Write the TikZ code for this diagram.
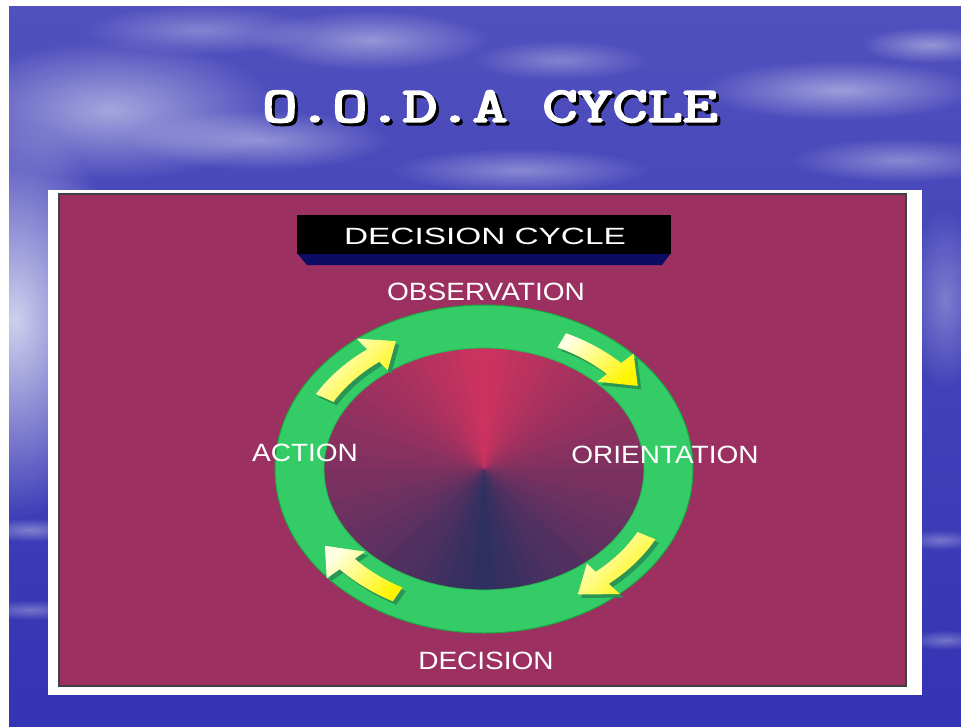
\documentclass[tikz,border=0pt]{standalone}
\usepackage{fontspec}
\setmainfont{Liberation Sans}
\newfontfamily\titlefont{Latin Modern Mono}[FakeBold=3.5]
\usetikzlibrary{calc,fadings}
\definecolor{panelmaroon}{RGB}{156,48,96}
\definecolor{ringgreen}{RGB}{51,204,102}
\definecolor{ringedge}{RGB}{30,165,65}
\definecolor{shadowgreen}{RGB}{42,150,85}
\definecolor{conetop}{RGB}{205,50,95}
\definecolor{conebot}{RGB}{44,48,96}
\definecolor{bevelnavy}{RGB}{12,12,100}
\definecolor{skytop}{RGB}{80,80,190}
\definecolor{skybot}{RGB}{52,52,180}
\definecolor{arrowlight}{RGB}{255,255,225}
\definecolor{arrowyellow}{RGB}{255,245,0}
\tikzfading[name=softcloud, inner color=transparent!0, outer color=transparent!100]
\tikzset{
  lbl/.style={text=white, font=\fontsize{25}{25}\selectfont, inner sep=0pt},
  cloud/.style={white, opacity=#1, path fading=softcloud},
  cloud/.default=0.35
}
\newcommand\ttltext{\scalebox{1.36}[1]{O.O.D.A CYCLE}}
% arrow along the ring: tail angle, neck angle, tip angle
\newcommand\oodaarrow[4][]{%
  \path[#1] (#2:{184*1.055} and {142*1.055})
    arc[start angle=#2, end angle=#3, x radius={184*1.055}, y radius={142*1.055}]
    -- (#3:{184*1.15} and {142*1.15})
    -- (#4:{184*1.02} and {142*1.02})
    -- (#3:{184*0.87} and {142*0.87})
    -- (#3:{184*0.945} and {142*0.945})
    arc[start angle=#3, end angle=#2, x radius={184*0.945}, y radius={142*0.945}]
    -- cycle;}
\begin{document}
\begin{tikzpicture}[x=1pt,y=1pt]
\useasboundingbox (0,0) rectangle (961,-726);
\fill[white] (0,0) rectangle (961,-726);
% sky background
\shade[top color=skytop, bottom color=skybot] (9,-6) rectangle (961,-726);
\begin{scope}
\clip (9,-6) rectangle (961,-726);
\fill[cloud=0.75] (15,-320) ellipse[x radius=110, y radius=200];
\fill[cloud=0.5] (110,-110) ellipse[x radius=170, y radius=70];
\fill[cloud=0.4] (260,-140) ellipse[x radius=130, y radius=30];
\fill[cloud=0.4] (370,-40) ellipse[x radius=120, y radius=30];
\fill[cloud=0.3] (200,-30) ellipse[x radius=120, y radius=25];
\fill[cloud=0.35] (520,-170) ellipse[x radius=130, y radius=22];
\fill[cloud=0.3] (560,-60) ellipse[x radius=90, y radius=20];
\fill[cloud=0.45] (840,-90) ellipse[x radius=140, y radius=30];
\fill[cloud=0.4] (930,-45) ellipse[x radius=70, y radius=18];
\fill[cloud=0.35] (900,-160) ellipse[x radius=110, y radius=22];
\fill[cloud=0.3] (945,-300) ellipse[x radius=40, y radius=90];
\fill[cloud=0.35] (30,-530) ellipse[x radius=50, y radius=12];
\fill[cloud=0.3] (30,-610) ellipse[x radius=50, y radius=10];
\fill[cloud=0.3] (940,-540) ellipse[x radius=40, y radius=10];
\fill[cloud=0.3] (945,-640) ellipse[x radius=40, y radius=10];
\end{scope}
% title with shadow
\node[font=\titlefont\fontsize{50}{50}\selectfont, inner sep=0pt] (title) at (490,-108)
  {\makebox[0pt][l]{\hspace*{3pt}\raisebox{-3pt}{\color{black}\ttltext}}%
   {\color{white}\ttltext}};
% panel
\fill[white] (48,-190) rectangle (922,-695);
\filldraw[fill=panelmaroon, draw=black!75, line width=1.5pt] (59,-194) rectangle (906,-686);
% decision cycle box
\fill[bevelnavy] (297,-253) -- (671,-253) -- (662,-265) -- (307,-265) -- cycle;
\fill[black] (297,-215) rectangle (671,-254);
\node[text=white, font=\fontsize{23.5}{24}\selectfont, inner sep=0pt] (dc) at (485,-236) {\scalebox{1.42}[1]{DECISION CYCLE}};
% cone fill
\begin{scope}[shift={(484,-469)}]
\clip (0,0) ellipse[x radius=162, y radius=123];
\foreach \a in {0,6,...,354}{
  \pgfmathsetmacro\m{\a+3}
  \pgfmathtruncatemacro\p{abs(mod(\m+450,360)-180)/180*100}
  \colorlet{wedgecol}{conebot!\p!conetop}
  \fill[wedgecol] (0,0) -- (\a:320) -- (\a+6.4:320) -- cycle;
}
\end{scope}
% ring
\begin{scope}[shift={(484,-469)}]
\fill[ringgreen, even odd rule] (0,0) ellipse[x radius=209, y radius=164] (0,0) ellipse[x radius=160, y radius=121];
\draw[ringedge, line width=1pt] (0,0) ellipse[x radius=209, y radius=164];
\draw[ringedge!60!ringgreen, line width=0.8pt] (0,0) ellipse[x radius=160, y radius=121];
\end{scope}
% arrows
\begin{scope}[shift={(487.5,-472.5)}]
\oodaarrow[fill=shadowgreen]{150}{127}{118}
\oodaarrow[fill=shadowgreen]{65}{45}{35}
\oodaarrow[fill=shadowgreen]{-28}{-50}{-60}
\oodaarrow[fill=shadowgreen]{242}{222}{212}
\end{scope}
\begin{scope}[shift={(484,-469)}]
\oodaarrow[shade, top color=arrowlight, bottom color=arrowyellow, shading angle=45]{150}{127}{118}
\oodaarrow[shade, top color=arrowlight, bottom color=arrowyellow, shading angle=45]{65}{45}{35}
\oodaarrow[shade, top color=arrowlight, bottom color=arrowyellow, shading angle=45]{-28}{-50}{-60}
\oodaarrow[shade, top color=arrowlight, bottom color=arrowyellow, shading angle=45]{242}{222}{212}
\end{scope}
% labels
\node[lbl] (obs) at (486,-292) {\scalebox{1.12}[1]{OBSERVATION}};
\node[lbl] (ori) at (665,-455) {\scalebox{1.12}[1]{ORIENTATION}};
\node[lbl] (act) at (305,-453) {\scalebox{1.12}[1]{ACTION}};
\node[lbl] (dec) at (486,-661) {\scalebox{1.12}[1]{DECISION}};
\end{tikzpicture}
\end{document}
